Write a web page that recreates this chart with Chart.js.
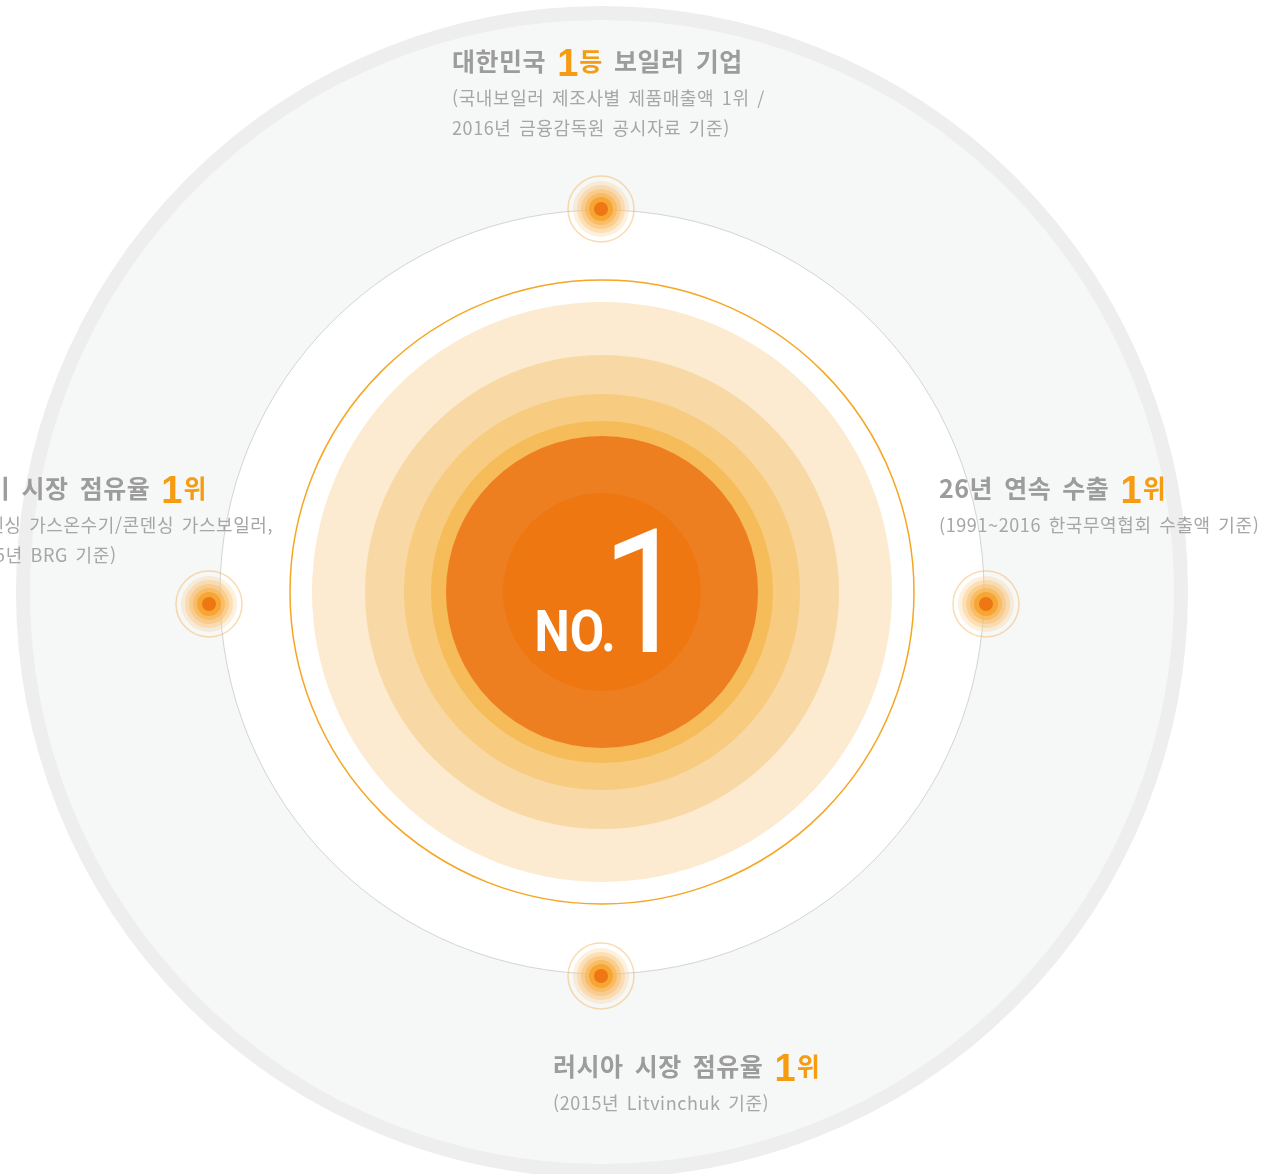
<!DOCTYPE html>
<html lang="ko">
<head>
<meta charset="UTF-8">
<title>NO.1</title>
<script src="https://cdn.jsdelivr.net/npm/chart.js"></script>
<style>
  html, body { margin: 0; padding: 0; background: #fff; }
  canvas { display: block; }
</style>
</head>
<body>
<canvas id="no1Chart" width="1272" height="1174"></canvas>
<script>
// centre of the whole figure
const centreX = 602;
const centreY = 592;

// outline circles: outer band, grey orbit, thin orange orbit
const ringRadii = [579, 382, 312];
// filled discs, outside in
const discRadii = [290, 237, 198, 171, 156, 99];

// glowing markers on the grey orbit: top, left, right, bottom
const markerX = [601, 209, 986, 601];
const markerY = [209, 604, 604, 976];
const markerLayerRadii = [33, 28, 24, 20, 16, 12, 7];

// captions, same order as the markers
const titlesBefore = ['대한민국 ', '북미 시장 점유율 ', '26년 연속 수출 ', '러시아 시장 점유율 '];
const titlesRank = ['1', '1', '1', '1'];
const titlesRankSuffix = ['등', '위', '위', '위'];
const titlesAfter = [' 보일러 기업', '', '', ''];
const notes = [
  ['(국내보일러 제조사별 제품매출액 1위 /', '2016년 금융감독원 공시자료 기준)'],
  ['(콘덴싱 가스온수기/콘덴싱 가스보일러,', '2015년 BRG 기준)'],
  ['(1991~2016 한국무역협회 수출액 기준)'],
  ['(2015년 Litvinchuk 기준)']
];

// styles
const ringFill = ['#f6f7f7', '#ffffff', 'rgba(0,0,0,0)'];
const ringStroke = ['#eeeeee', '#d4d4d4', '#f5a623'];
const ringWidth = [14, 1, 1.5];
const discColors = ['#fcebd0', '#f8d9a6', '#f7cb80', '#f5bc59', '#ed7f21', '#ee7712'];
const markerFill = ['rgba(0,0,0,0)', 'rgba(250,205,140,0.30)', 'rgba(249,195,115,0.36)',
  'rgba(248,185,95,0.44)', 'rgba(247,175,70,0.55)', 'rgba(246,160,40,0.8)', '#ee7613'];
const markerStroke = ['rgba(245,175,80,0.45)'];

// where each caption block sits (title baseline); left block is anchored at its right end
const captionPos = [
  {x: 452, y: 71, align: 'left'},
  {x: 207, y: 498, align: 'right'},
  {x: 939, y: 498, align: 'left'},
  {x: 553, y: 1076, align: 'left'}
];

const KR = '"Noto Sans CJK KR", "Noto Sans", sans-serif';
const grey = '#9c9c9c';
const noteGrey = '#a6a6a6';
const orange = '#f59c12';

function drawFitted(ctx, text, font, left, top, right, bottom) {
  ctx.save();
  ctx.font = font;
  ctx.textAlign = 'left';
  ctx.textBaseline = 'alphabetic';
  const m = ctx.measureText(text);
  const inkW = m.actualBoundingBoxLeft + m.actualBoundingBoxRight;
  const inkH = m.actualBoundingBoxAscent + m.actualBoundingBoxDescent;
  ctx.translate(left, bottom);
  ctx.scale((right - left) / inkW, (bottom - top) / inkH);
  ctx.fillText(text, m.actualBoundingBoxLeft, -m.actualBoundingBoxDescent);
  ctx.restore();
}

function setType(ctx, font, letter, word) {
  ctx.font = font;
  ctx.letterSpacing = letter + 'px';
  ctx.wordSpacing = word + 'px';
}

const labelPlugin = {
  id: 'labels',
  afterDatasetsDraw(chart) {
    const {ctx, scales: {x, y}} = chart;

    // NO.1 in the middle
    ctx.fillStyle = '#ffffff';
    drawFitted(ctx, 'NO.', 'bold 60px Roboto', x.getPixelForValue(537), y.getPixelForValue(610),
      x.getPixelForValue(613), y.getPixelForValue(652));
    drawFitted(ctx, '1', '400 176px Roboto', x.getPixelForValue(614), y.getPixelForValue(527),
      x.getPixelForValue(657), y.getPixelForValue(652));

    ctx.save();
    ctx.textAlign = 'left';
    ctx.textBaseline = 'alphabetic';
    const titleFont = 'bold 25px ' + KR;
    const rankFont = 'bold 38px "Liberation Sans", Arial, sans-serif';
    const noteFont = '18px ' + KR;

    captionPos.forEach((p, i) => {
      setType(ctx, titleFont, 0.5, 5);
      const wBefore = ctx.measureText(titlesBefore[i]).width;
      const wSuffix = ctx.measureText(titlesRankSuffix[i]).width;
      const wAfter = ctx.measureText(titlesAfter[i]).width;
      setType(ctx, rankFont, 0, 0);
      const wRank = ctx.measureText(titlesRank[i]).width + 1;
      const total = wBefore + wRank + wSuffix + wAfter;
      const px = x.getPixelForValue(p.x);
      const py = y.getPixelForValue(p.y);
      const left = p.align === 'right' ? px - total : px;

      let cx = left;
      setType(ctx, titleFont, 0.5, 5);
      ctx.fillStyle = grey;
      ctx.fillText(titlesBefore[i], cx, py);
      cx += wBefore;
      setType(ctx, rankFont, 0, 0);
      ctx.fillStyle = orange;
      ctx.fillText(titlesRank[i], cx, py + 5);
      cx += wRank;
      setType(ctx, titleFont, 0.5, 5);
      ctx.fillText(titlesRankSuffix[i], cx, py);
      cx += wSuffix;
      ctx.fillStyle = grey;
      ctx.fillText(titlesAfter[i], cx, py);

      setType(ctx, noteFont, 0.6, 3);
      ctx.fillStyle = noteGrey;
      notes[i].forEach((line, j) => {
        ctx.fillText(line, left, py + 34 + j * 30);
      });
    });
    ctx.restore();
  }
};

// one dataset per marker layer, widest at the bottom
const markerSets = markerLayerRadii.map((r, k) => ({
  label: 'marker ' + k,
  order: markerLayerRadii.length - k,
  data: markerX.map((mx, i) => ({x: mx, y: markerY[i], r: r})),
  backgroundColor: markerFill[k],
  borderColor: markerStroke[k] || 'rgba(0,0,0,0)',
  borderWidth: k === 0 ? 1.5 : 0,
  clip: false
}));

const ctx = document.getElementById('no1Chart').getContext('2d');
const no1Chart = new Chart(ctx, {
  type: 'bubble',
  data: {
    datasets: [
      ...markerSets,
      {
        label: 'core',
        order: 20,
        data: discRadii.map(r => ({x: centreX, y: centreY, r: r})),
        backgroundColor: discColors,
        borderWidth: 0,
        clip: false
      },
      {
        label: 'orbits',
        order: 30,
        data: ringRadii.map(r => ({x: centreX, y: centreY, r: r})),
        backgroundColor: ringFill,
        borderColor: ringStroke,
        borderWidth: ringWidth,
        clip: false
      }
    ]
  },
  options: {
    responsive: false,
    animation: false,
    events: [],
    devicePixelRatio: 1,
    layout: { padding: 0, autoPadding: false },
    plugins: {
      legend: { display: false },
      tooltip: { enabled: false }
    },
    scales: {
      x: { type: 'linear', min: 0, max: 1272, display: false },
      y: { type: 'linear', min: 0, max: 1174, reverse: true, display: false }
    }
  },
  plugins: [labelPlugin]
});
</script>
</body>
</html>
